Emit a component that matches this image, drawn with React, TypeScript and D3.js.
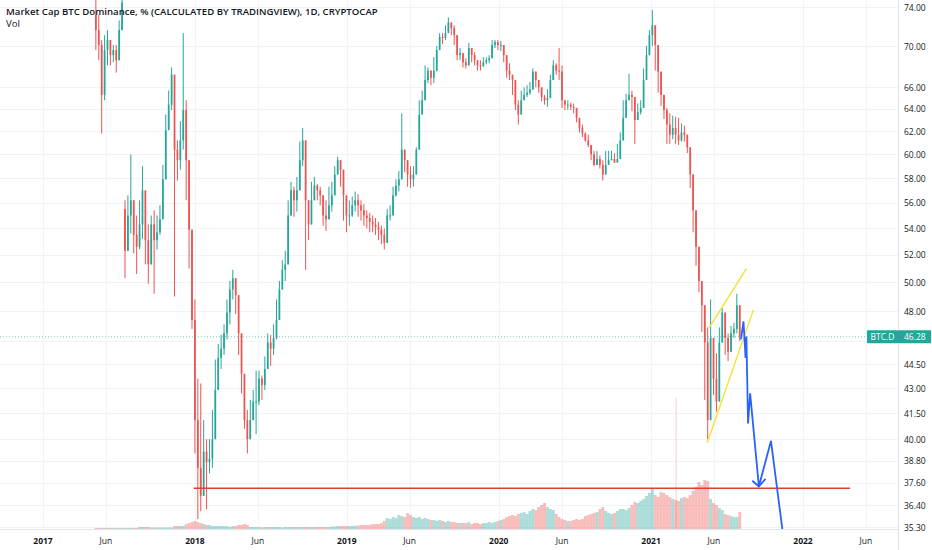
import React, { useEffect } from 'react';
import * as d3 from 'd3';

// weekly candles, first week starts 2017-05-08
const firstWeek = new Date(2017, 4, 8);
const firstOpen = 73.2;

const closes2017 = [
  71.6, 70.1, 65.3, 69.6, 70.6, 69.1, 69.6, 68.6, 71.6, 74.5,
  52.3, 55.0, 56.2, 53.5, 52.6, 54.3, 57.0, 53.1, 51.3, 54.3,
  53.1, 53.7, 54.7, 57.9, 62.1, 64.4, 67.2, 60.4, 59.5, 61.2,
  63.9, 59.5, 53.9, 47.4,
];
const highs2017 = [
  75.0, 73.2, 70.6, 71.1, 71.6, 70.6, 70.1, 70.1, 72.6, 75.0,
  56.2, 56.6, 60.0, 56.2, 55.0, 56.2, 59.0, 55.4, 54.3, 55.0,
  55.4, 55.0, 55.8, 59.1, 63.5, 65.7, 67.9, 64.8, 61.2, 62.9,
  71.3, 64.8, 59.5, 53.9,
];
const lows2017 = [
  69.6, 68.6, 61.8, 64.8, 68.1, 68.1, 68.4, 67.4, 68.6, 71.6,
  50.3, 53.2, 53.6, 52.1, 50.6, 52.4, 53.2, 51.3, 49.9, 51.7,
  49.2, 52.4, 53.5, 55.0, 59.1, 62.1, 63.9, 49.0, 57.8, 58.7,
  60.4, 56.2, 51.0, 46.8,
];

const closes2018 = [
  41.1, 38.4, 36.9, 39.3, 38.7, 38.9, 40.0, 42.9, 44.9, 45.5,
  46.5, 47.9, 49.5, 50.3, 49.1, 46.5, 43.9, 41.1, 40.0, 41.1,
  42.2, 42.2, 43.6, 43.2, 44.2, 45.9, 45.5, 46.2, 47.4, 49.5,
  50.9, 51.3, 55.0, 57.0, 56.2, 57.0, 59.5, 61.2, 56.2, 54.3,
  56.2, 57.4, 57.0, 56.6, 55.0, 54.7, 55.8, 56.6, 58.3, 59.5,
  58.7, 56.6, 55.0,
];
const highs2018 = [
  48.8, 43.6, 43.3, 41.1, 40.0, 40.0, 41.7, 44.8, 45.8, 46.4,
  47.1, 48.8, 50.1, 50.9, 50.1, 48.8, 46.1, 43.6, 41.7, 42.3,
  42.9, 44.1, 44.1, 43.8, 45.0, 46.5, 46.4, 47.1, 48.8, 50.1,
  51.6, 52.3, 56.2, 57.7, 57.3, 58.1, 61.1, 62.3, 60.2, 55.8,
  57.7, 58.1, 57.5, 57.3, 56.5, 56.2, 57.3, 57.7, 59.0, 59.8,
  59.4, 58.1, 56.5,
];
const lows2018 = [
  39.2, 35.7, 36.1, 37.8, 36.2, 38.1, 38.4, 41.1, 43.3, 44.2,
  45.1, 46.1, 47.1, 48.8, 47.8, 45.1, 42.7, 40.6, 39.2, 40.0,
  41.1, 40.3, 42.0, 42.3, 42.9, 44.7, 44.4, 45.1, 46.1, 47.4,
  49.8, 50.1, 53.1, 55.3, 54.9, 55.3, 57.7, 59.0, 50.9, 53.1,
  54.9, 56.2, 56.2, 55.8, 54.2, 53.8, 54.9, 55.3, 56.9, 58.5,
  57.3, 54.6, 53.7,
];

const closes2019 = [
  55.0, 55.8, 56.2, 55.8, 55.4, 55.0, 54.8, 54.5, 54.3, 54.1,
  53.9, 53.5, 52.9, 55.0, 55.0, 56.6, 57.4, 57.9, 60.4, 59.5,
  58.3, 57.9, 58.3, 60.4, 63.5, 64.8, 66.7, 67.6, 66.9, 67.6,
  69.6, 70.9, 70.8, 71.3, 72.4, 71.8, 71.1, 69.1, 69.3, 68.4,
  68.1, 69.8, 69.1, 68.6, 68.1, 68.0, 68.4, 68.6, 68.8, 70.1,
  70.4, 70.1,
];
const highs2019 = [
  56.2, 56.5, 56.9, 56.7, 56.2, 55.9, 55.4, 55.2, 55.0, 54.8,
  54.5, 54.2, 54.0, 55.5, 55.8, 57.3, 57.9, 58.6, 63.6, 60.2,
  59.4, 59.0, 59.0, 60.6, 64.8, 65.7, 68.1, 67.9, 67.6, 68.9,
  70.0, 71.3, 71.3, 72.1, 72.9, 72.4, 72.1, 70.3, 69.8, 69.1,
  68.8, 70.3, 69.6, 69.4, 68.6, 68.6, 68.9, 68.9, 69.1, 70.6,
  70.6, 70.6,
];
const lows2019 = [
  54.2, 54.9, 55.3, 54.9, 54.6, 54.2, 54.0, 53.7, 53.7, 53.5,
  53.1, 52.8, 52.4, 53.5, 54.6, 55.3, 56.5, 56.9, 59.0, 58.5,
  57.3, 57.2, 57.3, 59.0, 61.5, 63.7, 65.9, 66.4, 66.2, 66.4,
  67.5, 70.0, 70.2, 70.6, 71.3, 71.1, 70.1, 68.6, 68.6, 67.9,
  67.8, 68.9, 68.4, 68.1, 67.6, 67.6, 68.1, 68.2, 68.3, 69.6,
  69.8, 69.6,
];

const closes2020 = [
  70.1, 69.1, 67.6, 67.2, 66.7, 64.4, 63.5, 64.8, 65.3, 65.5,
  65.8, 67.5, 66.7, 66.0, 65.1, 64.8, 65.0, 66.7, 68.1, 67.6,
  67.5, 64.8, 64.4, 64.4, 64.2, 64.1, 63.2, 62.3, 61.8, 61.2,
  60.8, 60.0, 59.1, 59.6, 59.1, 58.3, 59.1, 59.5, 59.6, 59.3,
  59.6, 61.2, 63.2, 64.8, 65.3, 65.1, 63.0, 63.7, 64.1, 66.7,
  69.1, 71.1,
];
const highs2020 = [
  70.5, 70.1, 68.3, 68.3, 67.2, 66.3, 64.8, 65.7, 66.0, 66.2,
  66.5, 67.8, 67.2, 66.7, 65.8, 65.3, 65.8, 67.2, 68.6, 68.3,
  69.8, 68.1, 64.8, 64.8, 64.6, 64.5, 63.9, 63.0, 62.6, 61.9,
  61.7, 60.8, 60.3, 60.3, 59.9, 59.5, 60.3, 60.3, 60.3, 60.1,
  60.9, 61.9, 64.8, 65.4, 67.3, 65.7, 64.3, 64.5, 64.8, 67.8,
  70.0, 71.6,
];
const lows2020 = [
  69.5, 68.4, 66.9, 66.7, 65.3, 63.9, 62.6, 64.2, 64.8, 65.1,
  65.3, 66.5, 66.0, 65.5, 64.7, 64.4, 64.2, 65.3, 67.5, 67.2,
  66.7, 64.1, 63.9, 63.9, 63.9, 63.6, 62.8, 61.9, 61.5, 61.1,
  60.6, 59.5, 59.0, 59.3, 58.8, 57.8, 59.0, 59.3, 59.5, 59.3,
  59.6, 60.6, 62.7, 63.9, 64.8, 63.8, 60.9, 63.1, 63.5, 64.8,
  67.0, 69.2,
];

const closes2021 = [
  72.1, 70.1, 67.5, 65.3, 63.9, 62.6, 61.7, 62.3, 61.7, 61.2,
  61.9, 61.7, 60.6, 58.3, 55.4, 52.6, 50.1, 48.4, 45.9, 41.1,
  46.2, 43.6, 42.2, 45.9, 47.9, 46.2, 45.3, 46.5, 46.8, 48.4,
  46.28,
];
const highs2021 = [
  73.7, 71.1, 68.6, 66.3, 64.8, 64.1, 63.6, 63.4, 63.3, 63.2,
  62.7, 62.5, 61.6, 60.5, 57.2, 54.0, 51.4, 49.6, 46.9, 46.9,
  48.8, 46.2, 45.2, 46.9, 48.2, 47.2, 46.5, 47.0, 47.2, 49.2,
  47.8,
];
const lows2021 = [
  70.0, 67.6, 65.5, 64.3, 63.1, 60.9, 60.9, 61.3, 60.9, 60.8,
  61.1, 61.1, 60.1, 57.2, 53.7, 51.2, 49.3, 46.6, 42.3, 40.0,
  42.3, 42.6, 41.6, 44.1, 46.4, 45.1, 44.7, 45.9, 46.2, 46.5,
  46.0,
];

const volume2017 = [
  1, 1, 1, 1, 1, 1, 1, 1, 1, 1, 1, 1, 1, 1, 1,
  2, 2, 2, 2, 1.5, 1.5, 1.5, 1.5, 1.5, 1.5, 1.5, 1.5,
  3, 3, 3, 3, 5, 6, 7,
];
const volume2018 = [
  8, 7, 6, 5, 4, 4, 3, 3, 3, 3, 3, 3, 2, 3, 3, 4, 4, 5, 4,
  2, 2, 2, 2, 1.5, 2, 2, 2, 2, 2, 2, 1.5, 2, 2, 2, 2, 2, 2, 2, 2, 2, 2, 2, 2, 2, 2, 2, 2,
  2.5, 2.5, 3, 3, 3, 3,
];
const volume2019 = [
  3, 3, 3.5, 3.5, 4, 4, 4, 4, 5, 5, 5, 6, 8, 11, 10,
  12, 11, 14, 13, 12, 16, 14, 12, 11, 12, 10, 11, 10, 9,
  9, 8, 9, 8, 7, 8, 7, 7, 6, 6,
  6, 6, 7, 5, 6, 6, 5, 6, 6, 7, 6, 7, 8,
];
const volume2020 = [
  9, 10, 12, 13, 14, 13, 15,
  16, 17, 15, 18, 20, 19, 22, 24, 26, 22, 20, 19, 15,
  12, 10, 9, 8, 8, 9, 10, 9, 10,
  13, 14, 15, 16, 17, 20, 22, 18, 16,
  15, 16, 18, 20, 20, 19, 21,
  24, 27, 26, 28, 30, 33, 36,
];
const volume2021 = [
  41, 34, 32, 37, 36, 34, 32, 30, 29, 28, 31, 32, 31, 34,
  38, 42, 47, 44, 49, 48, 30, 26, 24, 21, 19,
  15, 14, 13, 12, 12, 17,
];

const gapOpens = [[10, 55.5]];
const volumeSpikes = [[199, 131]];

const priceTicks = [74, 70, 66, 64, 62, 60, 58, 56, 54, 52, 50, 48, 46, 44.5, 43, 41.5, 40, 38.8, 37.6, 36.4, 35.3];
const timeTicks = [
  new Date(2017, 0, 1), new Date(2017, 5, 1), new Date(2018, 0, 1), new Date(2018, 5, 1),
  new Date(2019, 0, 1), new Date(2019, 5, 1), new Date(2020, 0, 1), new Date(2020, 5, 1),
  new Date(2021, 0, 1), new Date(2021, 5, 1), new Date(2022, 0, 1), new Date(2022, 5, 1),
];
const lastPrice = 46.28;

// drawings
const supportLine = [[new Date(2017, 11, 29), 37.3], [new Date(2022, 3, 24), 37.3]];
const wedgeUpper = [[new Date(2021, 4, 21), 46.9], [new Date(2021, 7, 18), 51.0]];
const wedgeLower = [[new Date(2021, 4, 16), 39.8], [new Date(2021, 8, 4), 48.1]];
const projection = [
  [new Date(2021, 7, 5), 46.1], [new Date(2021, 7, 11), 47.3], [new Date(2021, 7, 16), 44.9],
  [new Date(2021, 7, 18), 46.3], [new Date(2021, 7, 22), 40.9], [new Date(2021, 7, 27), 42.7],
  [new Date(2021, 8, 17), 37.4], [new Date(2021, 9, 16), 39.9], [new Date(2021, 10, 13), 35.1],
];
const arrowHead = [[new Date(2021, 8, 1), 37.7], [new Date(2021, 8, 17), 37.4], [new Date(2021, 9, 3), 37.8]];

const UP = '#26a69a';
const DOWN = '#ef5350';
const TEXT = '#131722';
const GRID = '#f0f3fa';
const FONT = "'Open Sans', Roboto, sans-serif";

const W = 932;
const H = 550;
const plotRight = 898;
const plotBottom = 529;

export default function App() {
  useEffect(() => {
    document.body.style.margin = '0';
  }, []);

  const x = d3.scaleTime().domain([new Date(2017, 0, 1), new Date(2022, 0, 1)]).range([43, 803]);
  const y = d3.scaleLog().domain([35.3, 74]).range([527, 7]);
  const yVol = d3.scaleLinear().domain([0, 100]).range([plotBottom, plotBottom - 100]);

  const closes = [...closes2017, ...closes2018, ...closes2019, ...closes2020, ...closes2021];
  const highs = [...highs2017, ...highs2018, ...highs2019, ...highs2020, ...highs2021];
  const lows = [...lows2017, ...lows2018, ...lows2019, ...lows2020, ...lows2021];
  const volumes = [...volume2017, ...volume2018, ...volume2019, ...volume2020, ...volume2021];
  const gapMap = new Map(gapOpens.map(d => [d[0], d[1]]));

  const candles = closes.map((c, i) => {
    const open = gapMap.get(i) ?? (i === 0 ? firstOpen : closes[i - 1]);
    return {
      date: d3.timeDay.offset(firstWeek, 7 * i),
      open,
      close: c,
      high: Math.max(highs[i], open, c),
      low: Math.min(lows[i], open, c),
      volume: volumes[i] ?? 0,
    };
  });

  const step = x(d3.timeDay.offset(firstWeek, 7)) - x(firstWeek);
  const bodyW = step * 0.6;

  const line = d3.line<any>().x(d => x(d[0])).y(d => y(d[1]));
  const lastY = y(lastPrice);

  return (
    <svg width={W} height={H} style={{ position: 'absolute', left: 0, top: 0, background: '#fff' }} fontFamily={FONT}>
      <defs>
        <clipPath id="plot">
          <rect x={0} y={0} width={plotRight} height={plotBottom} />
        </clipPath>
      </defs>
      <rect width={W} height={H} fill="#fff" />

      {/* grid */}
      <g stroke={GRID} strokeWidth={1}>
        {priceTicks.map(t => (
          <line key={t} x1={0} x2={plotRight} y1={Math.round(y(t)) + 0.5} y2={Math.round(y(t)) + 0.5} />
        ))}
        {timeTicks.map(t => (
          <line key={+t} x1={Math.round(x(t)) + 0.5} x2={Math.round(x(t)) + 0.5} y1={0} y2={plotBottom} />
        ))}
      </g>

      <g clipPath="url(#plot)">
        {/* volume */}
        {candles.map((d, i) => (
          <rect key={i} x={x(d.date) - step / 2} width={step} y={yVol(d.volume)} height={plotBottom - yVol(d.volume)}
            fill={d.close >= d.open ? UP : DOWN} fillOpacity={0.38} />
        ))}
        {volumeSpikes.map(([i, v]) => (
          <rect key={i} x={x(candles[i].date)} width={1} y={yVol(v)} height={plotBottom - yVol(v)} fill={DOWN} fillOpacity={0.3} />
        ))}

        {/* candles */}
        {candles.map((d, i) => {
          const color = d.close >= d.open ? UP : DOWN;
          const cx = x(d.date);
          const top = y(Math.max(d.open, d.close));
          const bottom = y(Math.min(d.open, d.close));
          return (
            <g key={i}>
              <line x1={cx} x2={cx} y1={y(d.high)} y2={y(d.low)} stroke={color} strokeWidth={1} />
              <rect x={cx - bodyW / 2} width={bodyW} y={top} height={Math.max(1, bottom - top)} fill={color} />
            </g>
          );
        })}

        {/* last price line */}
        <line x1={0} x2={plotRight} y1={lastY} y2={lastY} stroke={UP} strokeOpacity={0.6} strokeDasharray="1 2" />

        {/* drawings */}
        <path d={line(supportLine as any) || ''} stroke="#e0412f" strokeWidth={1.6} fill="none" />
        <path d={line(wedgeUpper as any) || ''} stroke="#f5e12f" strokeWidth={1.4} fill="none" />
        <path d={line(wedgeLower as any) || ''} stroke="#f5e12f" strokeWidth={1.4} fill="none" />
        <path d={line(projection as any) || ''} stroke="#2962ff" strokeWidth={1.8} fill="none" />
        <path d={line(arrowHead as any) || ''} stroke="#2962ff" strokeWidth={1.8} fill="none" />
      </g>

      {/* axes borders */}
      <line x1={0} x2={plotRight} y1={plotBottom + 0.5} y2={plotBottom + 0.5} stroke="#e0e3eb" />
      <line x1={plotRight + 0.5} x2={plotRight + 0.5} y1={0} y2={H} stroke="#e0e3eb" />

      {/* price axis, the label under the last price tag is hidden */}
      <g fontSize={8.5} fill={TEXT}>
        {priceTicks.filter(t => Math.abs(y(t) - lastY) > 8).map(t => (
          <text key={t} x={904} y={y(t)} dominantBaseline="central">{t.toFixed(2)}</text>
        ))}
      </g>

      {/* time axis */}
      <g fontSize={8.5} fill={TEXT} textAnchor="middle">
        {timeTicks.map(t => (
          <text key={+t} x={x(t)} y={540} dominantBaseline="central" fontWeight={t.getMonth() === 0 ? 700 : 400}>
            {t.getMonth() === 0 ? d3.timeFormat('%Y')(t) : d3.timeFormat('%b')(t)}
          </text>
        ))}
      </g>

      {/* last price tags */}
      <rect x={867} y={lastY - 6.5} width={31} height={13} fill={UP} rx={1} />
      <text x={882.5} y={lastY} fill="#fff" fontSize={8.5} textAnchor="middle" dominantBaseline="central">BTC.D</text>
      <rect x={898} y={lastY - 6.5} width={33} height={13} fill={UP} />
      <text x={904} y={lastY} fill="#fff" fontSize={8.5} dominantBaseline="central">{lastPrice.toFixed(2)}</text>

      {/* legend */}
      <text x={6} y={15} fontSize={9.6} fontWeight={600} fill={TEXT}>
        Market Cap BTC Dominance, % (CALCULATED BY TRADINGVIEW), 1D, CRYPTOCAP
      </text>
      <text x={6} y={27} fontSize={9.6} fill={TEXT}>Vol</text>
    </svg>
  );
}
